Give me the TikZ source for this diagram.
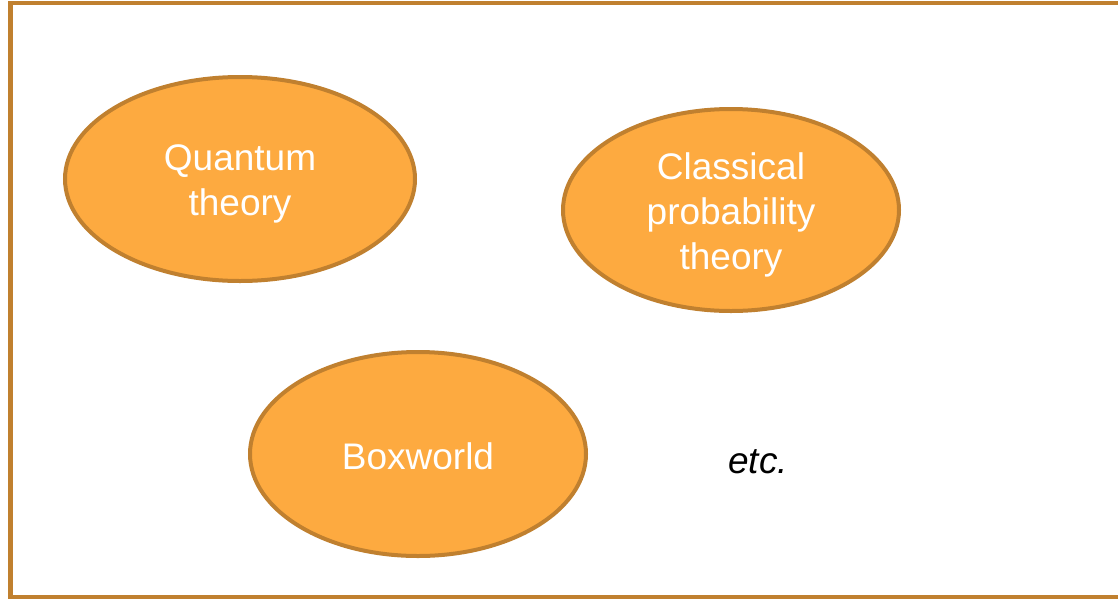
\documentclass[tikz,border=0pt]{standalone}
\usepackage{fontspec}
\setmainfont{Liberation Sans}
\usetikzlibrary{shapes.geometric}
\definecolor{orfill}{HTML}{FDAA40}
\definecolor{ordraw}{HTML}{C0802F}
\tikzset{
  theory/.style={ellipse, draw=ordraw, fill=orfill, line width=4pt, inner sep=0pt},
  thlabel/.style={text=white, align=center, inner sep=0pt, font=\fontsize{37}{45}\selectfont},
}
\begin{document}
\begin{tikzpicture}[x=1pt,y=-1pt]
\useasboundingbox (0,0) rectangle (1118,600);
\clip (0,0) rectangle (1118,600);
\draw[ordraw, line width=4.5pt] (10.5,3) rectangle (1130,597);
\node[theory, minimum width=350, minimum height=204] (qt) at (240,179) {};
\node[thlabel] (qtl) at ([yshift=-4.5pt]qt.center) {Quantum\\theory};
\node[theory, minimum width=336, minimum height=202] (cp) at (731,210) {};
\node[thlabel] (cpl) at ([yshift=-5pt]cp.center) {Classical\\probability\\theory};
\node[theory, minimum width=336, minimum height=204] (bw) at (418,454) {};
\node[thlabel] (bwl) at ([yshift=-2pt]bw.center) {Boxworld};
\node[font=\fontsize{37}{45}\selectfont\itshape, inner sep=0pt] (etc) at (758,462) {etc.};
\end{tikzpicture}
\end{document}
